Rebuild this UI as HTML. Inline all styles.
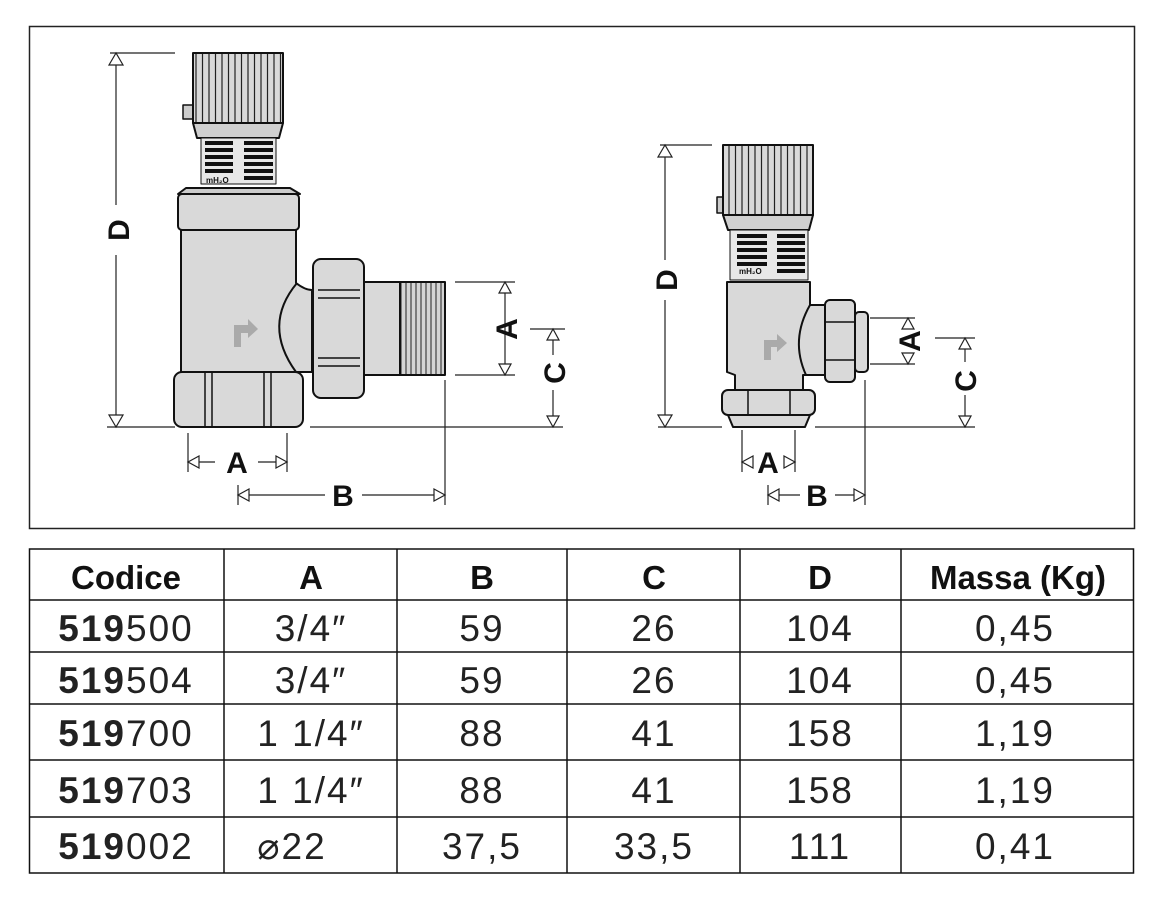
<!DOCTYPE html>
<html><head><meta charset="utf-8"><style>
html,body{margin:0;padding:0;background:#fff;}
svg{display:block;}
text{font-family:"Liberation Sans",sans-serif;}
</style></head><body>
<svg width="1162" height="897" viewBox="0 0 1162 897" xmlns="http://www.w3.org/2000/svg">
<defs>
<pattern id="rib" width="6.5" height="10" patternUnits="userSpaceOnUse">
<rect width="6.5" height="10" fill="#d9d9d9"/><line x1="1" y1="0" x2="1" y2="10" stroke="#222" stroke-width="1.2"/>
</pattern>
<pattern id="thr" width="5" height="10" patternUnits="userSpaceOnUse">
<rect width="5" height="10" fill="#d4d4d4"/><line x1="1" y1="0" x2="1" y2="10" stroke="#222" stroke-width="1"/>
</pattern>
</defs>
<rect x="29.5" y="26.5" width="1105" height="502" fill="none" stroke="#222" stroke-width="1.5"/>

<g stroke="#111" stroke-width="2" fill="#d9d9d9" stroke-linejoin="round">
<!-- LEFT VALVE -->
<rect x="183" y="105" width="10" height="14" fill="#ccc" stroke-width="1.5"/>
<rect x="193" y="53" width="90" height="70" fill="url(#rib)"/>
<polygon points="193,123 283,123 279,138 197,138" fill="#d0d0d0"/>
<rect x="201" y="138" width="75" height="46" fill="#e8e8e8" stroke-width="1"/>
<polygon points="186,188 290,188 300,194 178,194" fill="#ccc"/>
<rect x="178" y="194" width="121" height="36" rx="4"/>
<path d="M181,230 L296,230 L296,283 Q305,290 312,290 L312,372 L181,372 Z"/>
<path d="M297,283 Q262,325 296,372" fill="none"/>
<rect x="174" y="372" width="129" height="55" rx="8"/>
<line x1="205" y1="372" x2="205" y2="427" stroke-width="1.5"/>
<line x1="212" y1="372" x2="212" y2="427" stroke-width="1.5"/>
<line x1="264" y1="372" x2="264" y2="427" stroke-width="1.5"/>
<line x1="271" y1="372" x2="271" y2="427" stroke-width="1.5"/>
<rect x="364" y="282" width="36" height="93"/>
<rect x="400" y="282" width="45" height="93" fill="url(#thr)"/>
<rect x="313" y="259" width="51" height="139" rx="8"/>
<line x1="318" y1="290" x2="360" y2="290" stroke-width="1.5"/>
<line x1="318" y1="298" x2="360" y2="298" stroke-width="1.5"/>
<line x1="318" y1="358" x2="360" y2="358" stroke-width="1.5"/>
<line x1="318" y1="366" x2="360" y2="366" stroke-width="1.5"/>
<!-- RIGHT VALVE -->
<rect x="717" y="197" width="6" height="16" fill="#ccc" stroke-width="1.5"/>
<rect x="723" y="145" width="90" height="70" fill="url(#rib)"/>
<polygon points="723,215 813,215 809,230 728,230" fill="#d0d0d0"/>
<rect x="730" y="230" width="78" height="50" fill="#e8e8e8" stroke-width="1"/>
<path d="M727,282 L810,282 L810,305 Q818,305 825,305 L825,375 L803,375 L803,390 L735,390 L735,375 L727,372 Z"/>
<path d="M810,305 Q790,340 806,375" fill="none"/>
<rect x="722" y="390" width="93" height="25" rx="6"/>
<line x1="748" y1="390" x2="748" y2="415" stroke-width="1.5"/>
<line x1="790" y1="390" x2="790" y2="415" stroke-width="1.5"/>
<polygon points="728,415 810,415 805,427 733,427"/>
<rect x="855" y="312" width="13" height="60" rx="4"/>
<rect x="825" y="300" width="30" height="82" rx="5"/>
<line x1="825" y1="322" x2="855" y2="322" stroke-width="1.5"/>
<line x1="825" y1="360" x2="855" y2="360" stroke-width="1.5"/>
</g>

<g fill="#111">
<rect x="205" y="141" width="28" height="4"/><rect x="244" y="141" width="29" height="4"/>
<rect x="205" y="148" width="28" height="4"/><rect x="244" y="148" width="29" height="4"/>
<rect x="205" y="155" width="28" height="4"/><rect x="244" y="155" width="29" height="4"/>
<rect x="205" y="162" width="28" height="4"/><rect x="244" y="162" width="29" height="4"/>
<rect x="205" y="169" width="28" height="4"/><rect x="244" y="169" width="29" height="4"/>
<rect x="244" y="176" width="29" height="4"/>
<rect x="737" y="234" width="30" height="4"/><rect x="777" y="234" width="28" height="4"/>
<rect x="737" y="241" width="30" height="4"/><rect x="777" y="241" width="28" height="4"/>
<rect x="737" y="248" width="30" height="4"/><rect x="777" y="248" width="28" height="4"/>
<rect x="737" y="255" width="30" height="4"/><rect x="777" y="255" width="28" height="4"/>
<rect x="737" y="262" width="30" height="4"/><rect x="777" y="262" width="28" height="4"/>
<rect x="777" y="269" width="28" height="4"/>
<text x="206" y="183" font-size="8" font-weight="bold">mH₂O</text>
<text x="739" y="274" font-size="8" font-weight="bold">mH₂O</text>
</g>
<path d="M234,347 L234,325 L248,325 L248,319 L258,329 L248,338 L248,333 L241,333 L241,347 Z" fill="#aaa"/>
<path d="M764,360 L764,340 L777,340 L777,334 L787,343 L777,352 L777,347 L771,347 L771,360 Z" fill="#aaa"/>

<g stroke="#222" stroke-width="1.2" fill="#fff">
<line x1="110" y1="53" x2="175" y2="53"/><line x1="107" y1="427" x2="175" y2="427"/>
<line x1="116" y1="53" x2="116" y2="205"/><line x1="116" y1="255" x2="116" y2="427"/>
<polygon points="116,53 109,65 123,65"/><polygon points="116,427 109,415 123,415"/>
<line x1="188" y1="433" x2="188" y2="472"/><line x1="287" y1="433" x2="287" y2="472"/>
<line x1="188" y1="462" x2="215" y2="462"/><line x1="258" y1="462" x2="287" y2="462"/>
<polygon points="188,462 199,456 199,468"/><polygon points="287,462 276,456 276,468"/>
<line x1="238" y1="485" x2="238" y2="505"/><line x1="445" y1="380" x2="445" y2="505"/>
<line x1="238" y1="495" x2="325" y2="495"/><line x1="362" y1="495" x2="445" y2="495"/>
<polygon points="238,495 249,489 249,501"/><polygon points="445,495 434,489 434,501"/>
<line x1="455" y1="282" x2="515" y2="282"/><line x1="455" y1="375" x2="515" y2="375"/>
<line x1="505" y1="282" x2="505" y2="375"/>
<polygon points="505,282 499,293 511,293"/><polygon points="505,375 499,364 511,364"/>
<line x1="530" y1="329" x2="565" y2="329"/><line x1="310" y1="427" x2="563" y2="427"/>
<line x1="553" y1="329" x2="553" y2="355"/><line x1="553" y1="390" x2="553" y2="427"/>
<polygon points="553,329 547,340 559,340"/><polygon points="553,427 547,416 559,416"/>
<line x1="660" y1="145" x2="712" y2="145"/><line x1="658" y1="427" x2="722" y2="427"/>
<line x1="665" y1="145" x2="665" y2="260"/><line x1="665" y1="300" x2="665" y2="427"/>
<polygon points="665,145 658,157 672,157"/><polygon points="665,427 658,415 672,415"/>
<line x1="742" y1="430" x2="742" y2="472"/><line x1="795" y1="430" x2="795" y2="472"/>
<polygon points="742,462 753,456 753,468"/><polygon points="795,462 784,456 784,468"/>
<line x1="768" y1="485" x2="768" y2="505"/><line x1="865" y1="380" x2="865" y2="505"/>
<line x1="768" y1="495" x2="800" y2="495"/><line x1="835" y1="495" x2="865" y2="495"/>
<polygon points="768,495 779,489 779,501"/><polygon points="865,495 854,489 854,501"/>
<line x1="870" y1="318" x2="915" y2="318"/><line x1="870" y1="364" x2="915" y2="364"/>
<polygon points="908,318 902,329 914,329"/><polygon points="908,364 902,353 914,353"/>
<line x1="935" y1="338" x2="975" y2="338"/><line x1="815" y1="427" x2="975" y2="427"/>
<line x1="965" y1="338" x2="965" y2="362"/><line x1="965" y1="395" x2="965" y2="427"/>
<polygon points="965,338 959,349 971,349"/><polygon points="965,427 959,416 971,416"/>
</g>
<g font-weight="bold" font-size="30" fill="#111" text-anchor="middle">
<text x="237" y="473">A</text><text x="343" y="506">B</text>
<text x="768" y="473">A</text><text x="817" y="506">B</text>
<text transform="translate(129,230) rotate(-90)">D</text>
<text transform="translate(517,329) rotate(-90)">A</text>
<text transform="translate(565,373) rotate(-90)">C</text>
<text transform="translate(677,280) rotate(-90)">D</text>
<text transform="translate(920,341) rotate(-90)">A</text>
<text transform="translate(976,381) rotate(-90)">C</text>
</g>

<g stroke="#111" stroke-width="1.5" fill="none">
<rect x="29.5" y="549" width="1104" height="324"/>
<line x1="29" y1="600" x2="1134" y2="600"/>
<line x1="29" y1="652" x2="1134" y2="652"/>
<line x1="29" y1="704" x2="1134" y2="704"/>
<line x1="29" y1="760" x2="1134" y2="760"/>
<line x1="29" y1="817" x2="1134" y2="817"/>
<line x1="224" y1="549" x2="224" y2="873"/>
<line x1="397" y1="549" x2="397" y2="873"/>
<line x1="567" y1="549" x2="567" y2="873"/>
<line x1="740" y1="549" x2="740" y2="873"/>
<line x1="901" y1="549" x2="901" y2="873"/>
</g>
<g fill="#111" text-anchor="middle">
<g font-weight="bold" font-size="33">
<text x="126" y="589">Codice</text><text x="311" y="589">A</text><text x="482" y="589">B</text>
<text x="654" y="589">C</text><text x="820" y="589">D</text><text x="1018" y="589">Massa (Kg)</text>
</g>
<g font-size="37" fill="#222" letter-spacing="2">
<text x="126" y="641"><tspan font-weight="bold">519</tspan>500</text>
<text x="126" y="693"><tspan font-weight="bold">519</tspan>504</text>
<text x="126" y="746"><tspan font-weight="bold">519</tspan>700</text>
<text x="126" y="803"><tspan font-weight="bold">519</tspan>703</text>
<text x="126" y="859"><tspan font-weight="bold">519</tspan>002</text>
<text x="311" y="641">3/4″</text><text x="311" y="693">3/4″</text>
<text x="311" y="746">1 1/4″</text><text x="311" y="803">1 1/4″</text>
<text x="292" y="859">⌀22</text>
<text x="482" y="641">59</text><text x="482" y="693">59</text><text x="482" y="746">88</text><text x="482" y="803">88</text><text x="482" y="859">37,5</text>
<text x="654" y="641">26</text><text x="654" y="693">26</text><text x="654" y="746">41</text><text x="654" y="803">41</text><text x="654" y="859">33,5</text>
<text x="820" y="641">104</text><text x="820" y="693">104</text><text x="820" y="746">158</text><text x="820" y="803">158</text><text x="820" y="859">111</text>
<text x="1015" y="641">0,45</text><text x="1015" y="693">0,45</text><text x="1015" y="746">1,19</text><text x="1015" y="803">1,19</text><text x="1015" y="859">0,41</text>
</g>
</g>
</svg>
</body></html>
